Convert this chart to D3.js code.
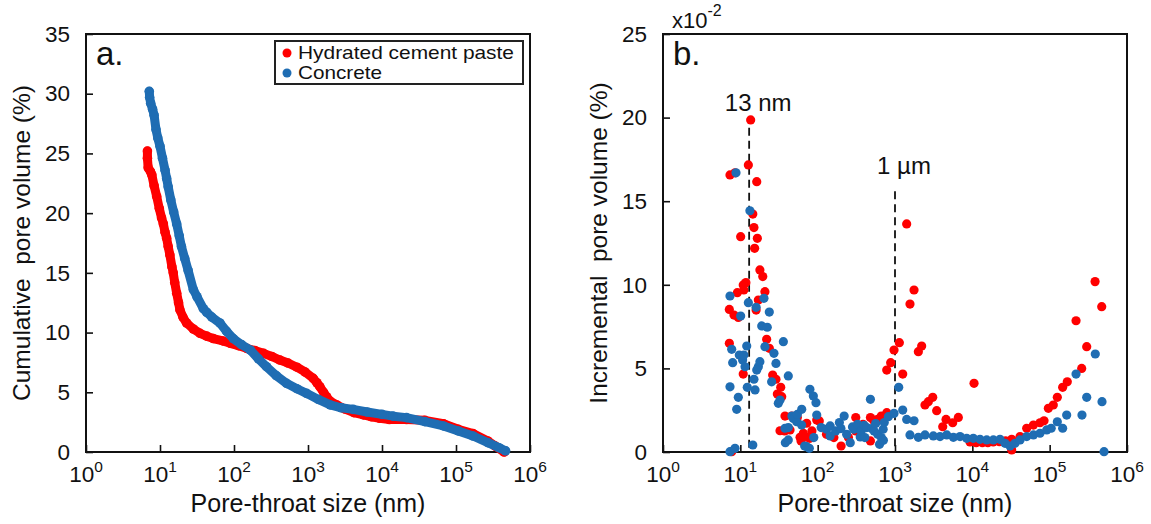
<!DOCTYPE html>
<html>
<head>
<meta charset="utf-8">
<script src="https://cdn.jsdelivr.net/npm/d3@7"></script>
<style>
  html, body { margin: 0; padding: 0; background: #fff; }
  svg { display: block; font-family: "Liberation Sans", Arial, sans-serif; }
</style>
</head>
<body>
<svg id="chart" width="1151" height="524"></svg>
<script>
// ---------------- DATA ----------------
// Panel a: cumulative pore volume (%) vs pore-throat size (nm)
const cumPasteSize = [6.76, 6.76, 6.92, 7.41, 7.76, 8.32, 9.02, 9.77, 10.5, 11.1, 11.7, 12.3, 12.9, 13.6, 14.5, 15.1, 15.8, 16.8, 17.8, 18.6, 20.4, 22.9, 28.2, 34.7, 42.7, 52.5, 70.8, 89.1, 115, 148, 191, 251, 324, 417, 537, 708, 912, 1175, 1318, 1445, 1622, 1778, 1995, 2455, 3162, 4169, 5623, 7244, 9333, 12590, 21380, 38020, 67610, 107200, 169800, 269200, 338800, 446700];
const cumPasteVol  = [25.2, 24.6, 23.8, 23.5, 23.2, 22.3, 21.4, 20.4, 19.6, 19.1, 18.4, 17.9, 17.2, 16.5, 15.5, 15.0, 14.2, 13.3, 12.5, 11.9, 11.3, 10.8, 10.3, 9.94, 9.7, 9.5, 9.3, 9.1, 8.9, 8.68, 8.5, 8.26, 8.0, 7.7, 7.45, 7.1, 6.7, 6.17, 5.8, 5.47, 5.0, 4.63, 4.25, 3.94, 3.6, 3.3, 3.1, 2.95, 2.82, 2.72, 2.72, 2.65, 2.37, 1.9, 1.54, 0.92, 0.5, 0.0];
const cumConcSize  = [7.16, 7.24, 7.48, 7.94, 8.32, 8.83, 9.33, 10.0, 10.8, 11.7, 12.3, 12.9, 14.0, 15.3, 16.8, 18.2, 19.5, 21.6, 24.0, 28.2, 31.6, 38.5, 42.7, 50.1, 64.6, 79.4, 97.7, 126, 166, 214, 275, 372, 513, 708, 955, 1380, 1995, 2818, 4074, 6310, 10000, 14130, 21380, 38020, 67610, 107200, 169800, 269200, 380200, 467700];
const cumConcVol   = [30.2, 29.7, 29.2, 28.7, 28.2, 27.0, 26.3, 25.6, 24.6, 23.6, 22.9, 22.2, 21.1, 20.1, 19.1, 18.1, 17.2, 16.2, 15.2, 13.6, 13.0, 12.0, 11.7, 11.3, 10.8, 10.1, 9.5, 9.0, 8.54, 7.8, 7.14, 6.4, 5.75, 5.3, 4.91, 4.4, 3.94, 3.7, 3.57, 3.35, 3.15, 3.0, 2.88, 2.54, 2.18, 1.76, 1.34, 0.78, 0.36, 0.1];

// Panel b: incremental pore volume (x10^-2 %) vs pore-throat size (nm)
const incPasteSize = [7.21, 7.21, 7.35, 7.73, 8.28, 8.53, 9.14, 9.42, 10.1, 10.9, 10.9, 11.1, 11.8, 12.7, 13.6, 14.5, 15.0, 15.3, 16.0, 16.3, 16.6, 17.1, 17.9, 19.5, 20.8, 21.9, 23.7, 26.2, 28.9, 30.1, 32.6, 33.3, 34.3, 37.4, 37.8, 43.9, 46.1, 54.6, 59.2, 61.0, 65.3, 72.1, 75.7, 79.4, 84.3, 97.3, 105, 130, 162, 201, 250, 311, 311, 386, 481, 481, 525, 597, 665, 783, 782, 879, 971, 1138, 1259, 1416, 1563, 1762, 2004, 2213, 2443, 2698, 3076, 3459, 4140, 4571, 5572, 6592, 10520, 9333, 11220, 13490, 15850, 18620, 22390, 26920, 32280, 32280, 41400, 50470, 61660, 74990, 84530, 96160, 111400, 125600, 147200, 169000, 219300, 259400, 301300, 386400, 471000];
const incPasteVol  = [8.53, 6.50, 16.57, 0.02, 8.19, 16.7, 9.53, 8.05, 12.88, 9.99, 4.66, 9.69, 10.13, 17.17, 19.86, 14.23, 13.42, 12.18, 8.49, 16.17, 12.78, 9.09, 10.89, 10.49, 9.59, 6.74, 6.2, 4.6, 4.35, 3.47, 1.27, 3.87, 3.31, 1.26, 2.15, 1.32, 2.15, 2.06, 0.88, 0.66, 1.12, 1.72, 0.86, 0.82, 1.26, 1.91, 1.86, 1.06, 0.86, 0.36, 0.86, 2.06, 1.26, 1.66, 0.66, 2.06, 1.91, 1.96, 2.15, 2.35, 4.9, 5.34, 6.1, 6.54, 4.66, 13.64, 8.85, 9.69, 6.0, 6.34, 2.81, 3.01, 3.27, 2.47, 1.51, 1.95, 1.75, 2.07, 4.11, 0.6, 0.56, 0.56, 0.56, 0.6, 0.62, 0.66, 0.76, 0.12, 0.92, 1.42, 1.61, 1.75, 1.87, 2.61, 2.81, 3.27, 3.87, 4.2, 7.85, 5.0, 6.3, 10.19, 8.69];
const incConcSize  = [7.35, 7.35, 7.35, 7.73, 7.96, 8.53, 8.79, 8.97, 9.42, 9.70, 10.1, 10.7, 11.1, 11.5, 12.1, 12.3, 12.7, 13.3, 14.5, 15.0, 15.5, 16.0, 16.3, 17.1, 17.9, 18.9, 20.2, 20.8, 22.3, 23.7, 25.4, 27.2, 28.9, 31.0, 32.6, 36.0, 37.8, 38.2, 41.7, 41.7, 41.7, 46.5, 48.4, 53.6, 54.6, 62.1, 62.2, 67.9, 72.1, 78.0, 79.4, 87.9, 89.1, 95.1, 97.3, 111, 130, 145, 145, 171, 191, 200, 220, 237, 264, 282, 294, 328, 355, 366, 398, 408, 431, 481, 501, 536, 562, 597, 631, 665, 703, 708, 726, 820, 971, 1117, 1259, 1416, 1563, 1762, 2004, 2443, 3133, 3819, 4667, 5689, 6934, 8453, 10300, 12560, 15350, 18710, 22800, 26490, 30690, 35650, 41400, 50470, 61660, 74990, 91620, 104700, 125600, 147200, 166000, 219300, 261800, 301300, 389000, 475300, 504700];
const incConcVol   = [9.33, 3.9, 0.02, 6.14, 5.34, 0.22, 16.7, 2.55, 3.27, 5.8, 8.13, 5.5, 5.8, 5.1, 6.34, 3.87, 8.93, 14.43, 0.42, 4.35, 3.71, 8.65, 4.9, 5.1, 5.4, 7.54, 9.19, 6.3, 7.46, 8.37, 4.2, 5.9, 5.3, 2.91, 3.11, 6.6, 1.42, 0.56, 0.72, 4.55, 1.46, 2.15, 2.01, 1.81, 2.25, 1.61, 2.55, 0.36, 0.32, 0.22, 3.75, 3.35, 0.86, 2.95, 2.21, 1.46, 1.36, 1.56, 0.96, 1.26, 1.76, 1.4, 2.15, 1.06, 0.56, 1.5, 1.36, 1.66, 0.9, 1.26, 1.6, 0.86, 1.46, 3.15, 1.4, 1.26, 1.7, 1.06, 0.46, 0.86, 1.36, 0.7, 1.76, 2.11, 2.31, 3.87, 2.51, 1.95, 1.02, 1.87, 0.88, 1.02, 0.96, 0.92, 1.02, 0.88, 0.92, 0.82, 0.82, 0.76, 0.72, 0.72, 0.76, 0.52, 0.36, 0.52, 0.72, 0.92, 1.02, 1.12, 1.32, 1.42, 1.81, 1.42, 2.21, 4.66, 2.21, 3.27, 5.86, 3.01, 0.02];

const decadeTicks = [1, 10, 100, 1000, 10000, 100000, 1000000];
const cumTicks = [0, 5, 10, 15, 20, 25, 30, 35];
const incTicks = [0, 5, 10, 15, 20, 25];
const seriesNames = ["Hydrated cement paste", "Concrete"];
const markers = [{ size: 13, label: "13 nm", top: 19.4 }, { size: 1000, label: "1 \u00b5m", top: 15.6 }];

// ---------------- STYLE ----------------
const RED = "#ff0000";
const BLUE = "#1f6db3";
const INK = "#111";

const svg = d3.select("#chart");

const panels = {
  a: { left: 86, right: 530, top: 34, bottom: 452, ymax: 35 },
  b: { left: 663, right: 1127, top: 34, bottom: 452, ymax: 25 }
};

function buildAxes(p, yTicks, letter, yTitle) {
  const x = d3.scaleLog().domain([1, 1e6]).range([p.left, p.right]);
  const y = d3.scaleLinear().domain([0, p.ymax]).range([p.bottom, p.top]);
  const g = svg.append("g");

  // x ticks (inward) + labels with superscript exponents
  const xAxis = d3.axisBottom(x).tickValues(decadeTicks).tickSizeInner(-7).tickSizeOuter(0).tickFormat("");
  const gx = g.append("g").attr("transform", `translate(0,${p.bottom})`).call(xAxis);
  gx.select(".domain").remove();
  gx.selectAll(".tick line").attr("stroke", INK).attr("stroke-width", 1.6);
  decadeTicks.forEach(v => {
    const t = g.append("text")
      .attr("x", x(v)).attr("y", p.bottom + 30)
      .attr("text-anchor", "middle")
      .attr("font-size", 22.5).attr("fill", INK);
    t.append("tspan").text("10");
    t.append("tspan").attr("dy", -10).attr("font-size", 15.5).text(Math.round(Math.log10(v)));
  });

  // y ticks (inward)
  const yAxis = d3.axisLeft(y).tickValues(yTicks).tickSizeInner(-7).tickSizeOuter(0).tickPadding(16);
  const gy = g.append("g").attr("transform", `translate(${p.left},0)`).call(yAxis);
  gy.select(".domain").remove();
  gy.selectAll(".tick line").attr("stroke", INK).attr("stroke-width", 1.6);
  gy.selectAll(".tick text").attr("font-size", 22.5).attr("fill", INK)
    .attr("font-family", "Liberation Sans, Arial, sans-serif");

  // frame
  g.append("rect")
    .attr("x", p.left).attr("y", p.top)
    .attr("width", p.right - p.left).attr("height", p.bottom - p.top)
    .attr("fill", "none").attr("stroke", INK).attr("stroke-width", 2);

  // titles
  g.append("text")
    .attr("x", (p.left + p.right) / 2).attr("y", p.bottom + 60)
    .attr("text-anchor", "middle").attr("font-size", 25).attr("fill", INK)
    .text("Pore-throat size (nm)");
  g.append("text")
    .attr("transform", `translate(${p.left - 56},${(p.top + p.bottom) / 2}) rotate(-90)`)
    .attr("text-anchor", "middle").attr("font-size", 24.5).attr("fill", INK)
    .attr("xml:space", "preserve")
    .text(yTitle);
  g.append("text")
    .attr("x", p.left + 10).attr("y", p.top + 31)
    .attr("font-size", 33).attr("fill", INK)
    .text(letter);
  return { x, y, g };
}

// ---------------- PANEL A ----------------
const A = buildAxes(panels.a, cumTicks, "a.", "Cumulative  pore volume (%)");
const cumSeries = [
  { sizes: cumPasteSize, vols: cumPasteVol, color: RED },
  { sizes: cumConcSize, vols: cumConcVol, color: BLUE }
];
const lineA = d3.line().x(d => A.x(d[0])).y(d => A.y(d[1]));
cumSeries.forEach(s => {
  const pts = s.sizes.map((v, i) => [v, s.vols[i]]);
  A.g.append("path").datum(pts)
    .attr("d", lineA).attr("fill", "none")
    .attr("stroke", s.color).attr("stroke-width", 9)
    .attr("stroke-linecap", "round").attr("stroke-linejoin", "round");
  A.g.append("g").selectAll("circle").data(pts).join("circle")
    .attr("cx", d => A.x(d[0])).attr("cy", d => A.y(d[1]))
    .attr("r", 4.8).attr("fill", s.color);
});

// legend
const leg = A.g.append("g");
leg.append("rect").attr("x", 275).attr("y", 41).attr("width", 248).attr("height", 43)
  .attr("fill", "#fff").attr("stroke", "#222").attr("stroke-width", 2);
seriesNames.forEach((name, i) => {
  const cy = 52 + i * 20;
  leg.append("circle").attr("cx", 287).attr("cy", cy + 1).attr("r", 4.5)
    .attr("fill", i === 0 ? RED : BLUE);
  leg.append("text").attr("x", 298).attr("y", cy + 7)
    .attr("font-size", 18.5).attr("fill", INK)
    .attr("textLength", i === 0 ? 216 : 84).attr("lengthAdjust", "spacingAndGlyphs")
    .text(name);
});

// ---------------- PANEL B ----------------
const B = buildAxes(panels.b, incTicks, "b.", "Incremental  pore volume (%)");
// x10^-2 multiplier
const mult = B.g.append("text").attr("x", panels.b.left + 9).attr("y", panels.b.top - 6)
  .attr("font-size", 22).attr("fill", INK);
mult.append("tspan").text("x10");
mult.append("tspan").attr("dy", -12).attr("font-size", 16).text("-2");

// dashed marker lines
markers.forEach(m => {
  B.g.append("line")
    .attr("x1", B.x(m.size)).attr("x2", B.x(m.size))
    .attr("y1", B.y(m.top)).attr("y2", B.y(0))
    .attr("stroke", INK).attr("stroke-width", 1.8).attr("stroke-dasharray", "8,5");
  B.g.append("text")
    .attr("x", B.x(m.size) + 9).attr("y", B.y(m.top) - 17)
    .attr("text-anchor", "middle").attr("font-size", 24).attr("fill", INK)
    .text(m.label);
});

const incSeries = [
  { sizes: incPasteSize, vols: incPasteVol, color: RED },
  { sizes: incConcSize, vols: incConcVol, color: BLUE }
];
incSeries.forEach(s => {
  const pts = s.sizes.map((v, i) => [v, s.vols[i]]);
  B.g.append("g").selectAll("circle").data(pts).join("circle")
    .attr("cx", d => B.x(d[0])).attr("cy", d => B.y(d[1]))
    .attr("r", 4.6).attr("fill", s.color);
});
</script>
</body>
</html>
